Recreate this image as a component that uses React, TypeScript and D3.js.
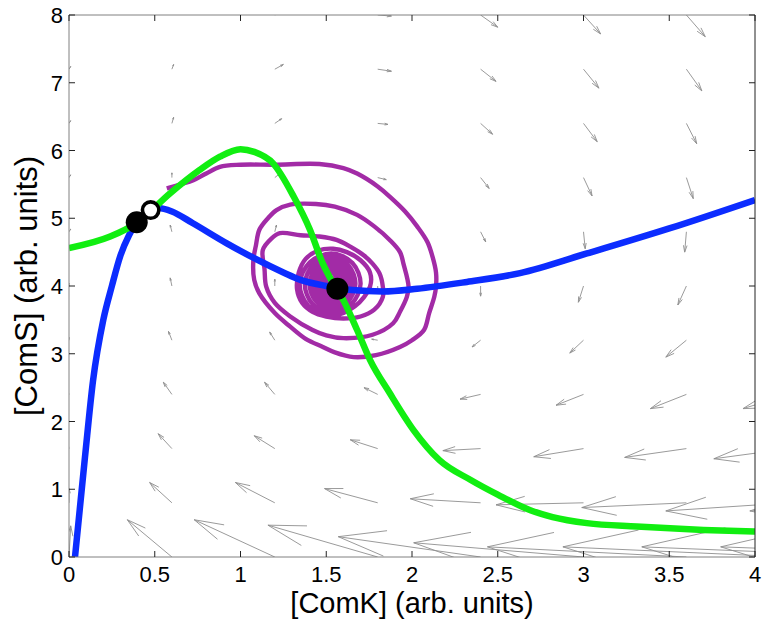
import React from "react";
import * as d3 from "d3";

// ---------- data ----------
const xTicks = [0, 0.5, 1, 1.5, 2, 2.5, 3, 3.5, 4];
const yTicks = [0, 1, 2, 3, 4, 5, 6, 7, 8];
const xTickLabels = ["0", "0.5", "1", "1.5", "2", "2.5", "3", "3.5", "4"];
const yTickLabels = ["0", "1", "2", "3", "4", "5", "6", "7", "8"];

// quiver grid (columns of x, rows of y)
const quiverX = [0, 0.6, 1.2, 1.8, 2.4, 3.0, 3.6, 4.2, 4.8, 5.4];
const quiverY = [0, 0.8, 1.6, 2.4, 3.2, 4.0, 4.8, 5.6, 6.4, 7.2, 8.0];
// displayed arrow components (data units), quiverU[col][row]
const quiverU = [
  [0.01, 0, -0.01, -0.01, 0, 0, 0.01, 0.01, 0.01, 0.01, 0.01],
  [-0.26, -0.13, -0.08, -0.05, -0.02, -0.01, -0.01, 0, 0.01, 0.01, 0.01],
  [-0.47, -0.23, -0.12, -0.06, -0.03, 0, 0.01, 0.03, 0.04, 0.05, 0.05],
  [-0.64, -0.31, -0.16, -0.08, -0.035, 0, 0.02, 0.05, 0.06, 0.08, 0.08],
  [-0.83, -0.41, -0.22, -0.12, -0.05, 0, 0.03, 0.05, 0.07, 0.09, 0.1],
  [-0.99, -0.51, -0.29, -0.16, -0.08, -0.03, 0.01, 0.05, 0.08, 0.09, 0.1],
  [-1.16, -0.61, -0.36, -0.21, -0.12, -0.05, -0.01, 0.04, 0.06, 0.09, 0.11],
  [-1.32, -0.72, -0.44, -0.27, -0.16, -0.09, -0.02, 0.03, 0.06, 0.09, 0.11],
  [-1.46, -0.83, -0.51, -0.33, -0.2, -0.12, -0.04, 0.02, 0.06, 0.09, 0.11],
  [-1.6, -0.93, -0.58, -0.38, -0.24, -0.14, -0.06, 0.01, 0.05, 0.09, 0.11],
];
const quiverV = [
  [0.46, 0.21, 0.12, 0.07, 0.04, 0.04, 0.04, 0.04, 0.04, 0.04, 0.03],
  [0.55, 0.3, 0.22, 0.18, 0.13, 0.12, 0.1, 0.07, 0.09, 0.07, 0.04],
  [0.55, 0.3, 0.19, 0.18, 0.12, 0.1, 0.1, 0.06, 0.07, 0.07, 0.06],
  [0.47, 0.21, 0.13, 0.1, 0.015, -0.04, 0, -0.03, -0.015, -0.03, -0.015],
  [0.3, 0.06, -0.03, -0.07, -0.1, -0.15, -0.15, -0.16, -0.16, -0.18, -0.18],
  [0.21, -0.03, -0.12, -0.16, -0.19, -0.24, -0.25, -0.27, -0.27, -0.28, -0.28],
  [0.15, -0.07, -0.13, -0.21, -0.25, -0.28, -0.3, -0.31, -0.3, -0.32, -0.32],
  [0.15, -0.12, -0.15, -0.21, -0.27, -0.31, -0.34, -0.35, -0.35, -0.36, -0.36],
  [0.15, -0.12, -0.18, -0.24, -0.3, -0.35, -0.38, -0.39, -0.39, -0.4, -0.4],
  [0.15, -0.15, -0.2, -0.27, -0.33, -0.38, -0.41, -0.43, -0.43, -0.44, -0.44],
];

// blue nullcline
const blueX = [0.035, 0.093, 0.14, 0.2, 0.25, 0.3, 0.35, 0.39, 0.45, 0.52, 0.6, 0.72, 0.92, 1.08, 1.25, 1.35, 1.5, 1.65, 1.83, 2.03, 2.32, 2.63, 3.02, 3.5, 4.0];
const blueY = [0, 1.47, 2.6, 3.5, 4.0, 4.45, 4.75, 4.92, 5.08, 5.15, 5.1, 4.93, 4.63, 4.41, 4.2, 4.09, 4.0, 3.94, 3.92, 3.96, 4.06, 4.19, 4.48, 4.85, 5.27];

// green nullcline
const greenX = [0, 0.24, 0.395, 0.59, 0.76, 0.88, 1.0, 1.08, 1.19, 1.31, 1.405, 1.48, 1.54, 1.6, 1.68, 1.755, 1.87, 2.01, 2.16, 2.34, 2.5, 2.69, 2.82, 3.02, 3.31, 3.7, 4.0];
const greenY = [4.56, 4.73, 4.93, 5.37, 5.71, 5.91, 6.02, 5.98, 5.81, 5.32, 4.83, 4.33, 4.04, 3.79, 3.35, 2.91, 2.42, 1.87, 1.43, 1.14, 0.92, 0.69, 0.59, 0.5, 0.45, 0.4, 0.375];

// purple trajectory (spiral)
const spiralX = [
  0.57, 0.65, 0.725, 0.8, 0.88, 1.0, 1.2, 1.46, 1.6, 1.68, 1.8, 1.87, 1.96, 2.03, 2.09, 2.12, 2.14, 2.14, 2.13, 2.1, 2.07, 2.0, 1.93, 1.79, 1.66, 1.55, 1.48, 1.38, 1.29, 1.2, 1.11, 1.08, 1.075, 1.09, 1.11, 1.16, 1.21, 1.29, 1.44, 1.55, 1.68, 1.78, 1.87, 1.93, 1.95, 1.98, 1.97, 1.93, 1.89, 1.77, 1.6, 1.5, 1.42, 1.29, 1.2, 1.15, 1.14, 1.13, 1.18, 1.23, 1.35, 1.46, 1.56, 1.64, 1.72, 1.77, 1.81, 1.83, 1.83, 1.78, 1.7, 1.6, 1.5, 1.42, 1.36, 1.33, 1.34, 1.38, 1.45, 1.54, 1.62, 1.7, 1.755, 1.755,
  1.667, 1.53, 1.397, 1.345, 1.404, 1.53, 1.653, 1.7,
  1.646, 1.53, 1.419, 1.375, 1.424, 1.53, 1.631, 1.67,
  1.626, 1.53, 1.439, 1.403, 1.443, 1.53, 1.613, 1.645,
  1.608, 1.53, 1.456, 1.427, 1.46, 1.53, 1.595, 1.62,
  1.591, 1.53, 1.473, 1.452, 1.478, 1.53, 1.578, 1.595,
  1.575, 1.53, 1.485, 1.473, 1.492, 1.53, 1.563, 1.575,
  1.56, 1.53, 1.502, 1.495, 1.51, 1.53, 1.548, 1.555,
  1.545, 1.53, 1.52, 1.53,
];
const spiralY = [
  5.44, 5.5, 5.56, 5.66, 5.76, 5.79, 5.79, 5.8, 5.74, 5.66, 5.47, 5.32, 5.1, 4.88, 4.65, 4.43, 4.2, 3.99, 3.84, 3.6, 3.35, 3.2, 3.1, 2.98, 2.95, 3.02, 3.1, 3.22, 3.4, 3.6, 3.89, 4.09, 4.38, 4.6, 4.83, 5.0, 5.12, 5.2, 5.21, 5.17, 5.05, 4.88, 4.68, 4.5, 4.33, 3.99, 3.84, 3.62, 3.45, 3.28, 3.23, 3.27, 3.35, 3.55, 3.75, 3.99, 4.25, 4.53, 4.7, 4.78, 4.75, 4.73, 4.68, 4.58, 4.45, 4.33, 4.19, 3.99, 3.84, 3.65, 3.55, 3.52, 3.55, 3.62, 3.75, 3.95, 4.2, 4.4, 4.52, 4.55, 4.5, 4.38, 4.2, 3.99,
  3.7, 3.56, 3.7, 4.03, 4.35, 4.48, 4.34, 4.03,
  3.73, 3.605, 3.737, 4.03, 4.31, 4.425, 4.3, 4.03,
  3.77, 3.665, 3.78, 4.03, 4.27, 4.365, 4.26, 4.03,
  3.81, 3.725, 3.82, 4.03, 4.23, 4.305, 4.22, 4.03,
  3.854, 3.785, 3.864, 4.03, 4.185, 4.245, 4.175, 4.03,
  3.895, 3.845, 3.905, 4.03, 4.14, 4.19, 4.135, 4.03,
  3.935, 3.9, 3.94, 4.03, 4.1, 4.12, 4.09, 4.03,
  3.99, 3.98, 4.02, 4.05,
];

// fixed points
const stableX = [0.395, 1.565];
const stableY = [4.94, 3.96];
const unstableX = [0.476];
const unstableY = [5.12];

const xLabel = "[ComK] (arb. units)";
const yLabel = "[ComS] (arb. units)";

// ---------- layout ----------
const W = 763;
const H = 623;
const L = 69;
const R = 755;
const T = 15;
const B = 557;
const FONT = "'Liberation Sans', Arial, Helvetica, sans-serif";

export default function App() {
  const x = d3.scaleLinear().domain([0, 4]).range([L, R]);
  const y = d3.scaleLinear().domain([0, 8]).range([B, T]);

  const smoothLine = d3
    .line<[number, number]>()
    .x((d) => x(d[0]))
    .y((d) => y(d[1]))
    .curve(d3.curveMonotoneX);

  const spiralLine = d3
    .line<[number, number]>()
    .x((d) => x(d[0]))
    .y((d) => y(d[1]))
    .curve(d3.curveCatmullRom.alpha(0.5));

  const blue = smoothLine(blueX.map((v, i) => [v, blueY[i]]) as [number, number][]) || "";
  const green = smoothLine(greenX.map((v, i) => [v, greenY[i]]) as [number, number][]) || "";
  const spiral = spiralLine(spiralX.map((v, i) => [v, spiralY[i]]) as [number, number][]) || "";

  const alpha = 0.33;
  const beta = 0.27;
  const arrows: string[] = [];
  quiverX.forEach((qx, i) => {
    quiverY.forEach((qy, j) => {
      const x0 = x(qx);
      const y0 = y(qy);
      const x1 = x(qx + quiverU[i][j]);
      const y1 = y(qy + quiverV[i][j]);
      const dx = x1 - x0;
      const dy = y1 - y0;
      const px = -dy;
      const py = dx;
      const b1x = x1 - alpha * (dx + beta * px);
      const b1y = y1 - alpha * (dy + beta * py);
      const b2x = x1 - alpha * (dx - beta * px);
      const b2y = y1 - alpha * (dy - beta * py);
      arrows.push(
        `M${x0},${y0}L${x1},${y1}M${b1x},${b1y}L${x1},${y1}L${b2x},${b2y}`
      );
    });
  });

  const tickLen = 6;

  return (
    <svg
      width={W}
      height={H}
      style={{ position: "absolute", left: 0, top: 0, background: "#fff" }}
    >
      <defs>
        <clipPath id="plotClip">
          <rect x={L} y={T} width={R - L} height={B - T} />
        </clipPath>
      </defs>
      <rect x={0} y={0} width={W} height={H} fill="#fff" />

      <g clipPath="url(#plotClip)">
        <path d={arrows.join("")} fill="none" stroke="#8f8f8f" strokeWidth={0.9} />
        <path d={spiral} fill="none" stroke="#a22ba6" strokeWidth={4.4} strokeLinejoin="round" />
        <path d={blue} fill="none" stroke="#0c2cff" strokeWidth={6.5} strokeLinejoin="round" />
        <path d={green} fill="none" stroke="#11ee11" strokeWidth={6.5} strokeLinejoin="round" />
        {stableX.map((v, i) => (
          <circle key={"s" + i} cx={x(v)} cy={y(stableY[i])} r={11} fill="#000" />
        ))}
        {unstableX.map((v, i) => (
          <circle
            key={"u" + i}
            cx={x(v)}
            cy={y(unstableY[i])}
            r={8.2}
            fill="#fff"
            stroke="#000"
            strokeWidth={3.6}
          />
        ))}
      </g>

      {/* frame */}
      <line x1={L} x2={R} y1={T} y2={T} stroke="#808080" strokeWidth={1} />
      <line x1={L} x2={R} y1={B} y2={B} stroke="#808080" strokeWidth={1} />
      <line x1={L} x2={L} y1={T} y2={B} stroke="#808080" strokeWidth={1} />
      <line x1={R} x2={R} y1={T} y2={B} stroke="#222" strokeWidth={1} />

      {/* ticks */}
      {xTicks.map((t) => (
        <g key={"xt" + t}>
          <line x1={x(t)} x2={x(t)} y1={B} y2={B - tickLen} stroke="#222" strokeWidth={1} />
          <line x1={x(t)} x2={x(t)} y1={T} y2={T + tickLen} stroke="#222" strokeWidth={1} />
        </g>
      ))}
      {yTicks.map((t) => (
        <g key={"yt" + t}>
          <line x1={L} x2={L + tickLen} y1={y(t)} y2={y(t)} stroke="#222" strokeWidth={1} />
          <line x1={R} x2={R - tickLen} y1={y(t)} y2={y(t)} stroke="#222" strokeWidth={1} />
        </g>
      ))}

      {/* tick labels */}
      {xTicks.map((t, i) => (
        <text
          key={"xl" + t}
          x={x(t)}
          y={582}
          textAnchor="middle"
          fontFamily={FONT}
          fontSize={22}
          fill="#000"
        >
          {xTickLabels[i]}
        </text>
      ))}
      {yTicks.map((t, i) => (
        <text
          key={"yl" + t}
          x={63}
          y={y(t) + 8}
          textAnchor="end"
          fontFamily={FONT}
          fontSize={22}
          fill="#000"
        >
          {yTickLabels[i]}
        </text>
      ))}

      {/* axis labels */}
      <text
        x={(L + R) / 2}
        y={613}
        textAnchor="middle"
        fontFamily={FONT}
        fontSize={29}
        fill="#000"
      >
        {xLabel}
      </text>
      <text
        transform={`translate(37,${(T + B) / 2}) rotate(-90)`}
        textAnchor="middle"
        fontFamily={FONT}
        fontSize={31}
        fill="#000"
      >
        {yLabel}
      </text>
    </svg>
  );
}
